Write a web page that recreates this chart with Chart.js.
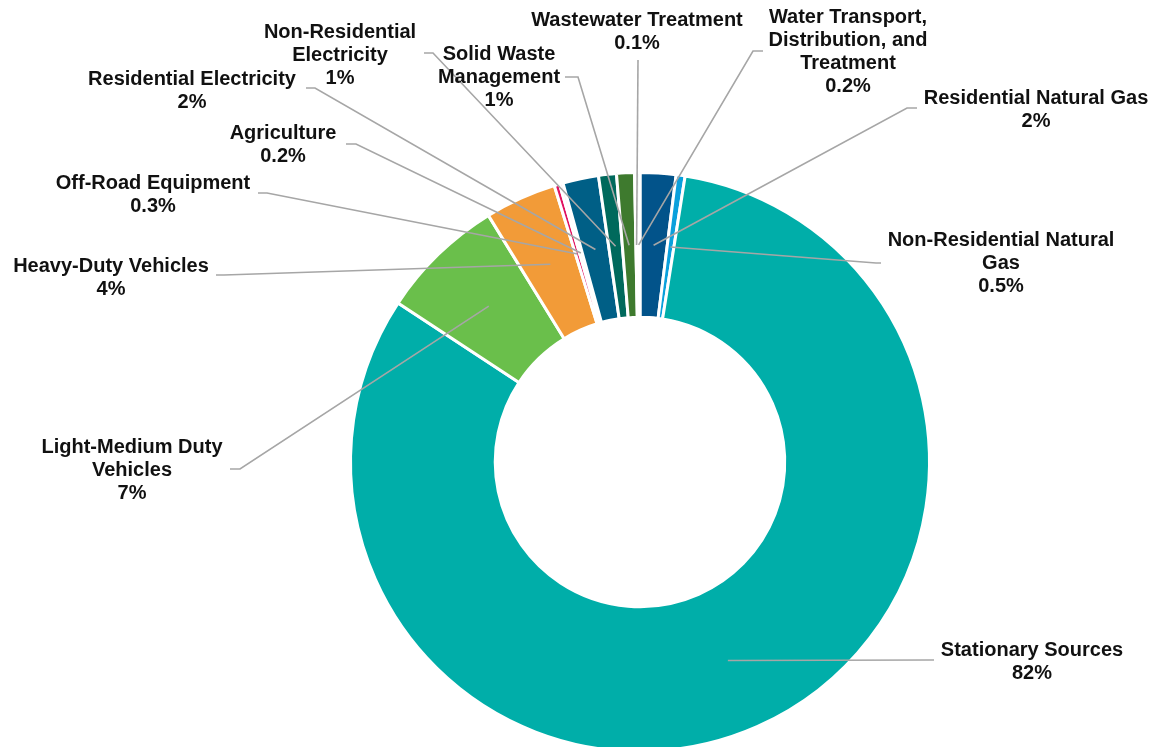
<!DOCTYPE html>
<html>
<head>
<meta charset="utf-8">
<script src="https://cdn.jsdelivr.net/npm/chart.js@4.4.1/dist/chart.umd.min.js"></script>
<style>
  html, body { margin: 0; padding: 0; background: #fff; overflow: hidden; }
  #wrap { width: 1156px; height: 770px; }
</style>
</head>
<body>
<div id="wrap"><canvas id="emisiChart" width="1156" height="770"></canvas></div>
<script>
// sektor emisi, urut searah jarum jam dari atas
const sektor = [
  'Residential Natural Gas', 'Non-Residential Natural Gas', 'Stationary Sources',
  'Light-Medium Duty Vehicles', 'Heavy-Duty Vehicles', 'Off-Road Equipment',
  'Agriculture', 'Residential Electricity', 'Non-Residential Electricity',
  'Solid Waste Management', 'Wastewater Treatment', 'Water Transport, Distribution, and Treatment'
];
const persen = [2, 0.5, 82, 7, 4, 0.3, 0.2, 2, 1, 1, 0.1, 0.2];

// baris label seperti tertulis di grafik
const barisLabel = [
  ['Residential Natural Gas'],
  ['Non-Residential Natural', 'Gas'],
  ['Stationary Sources'],
  ['Light-Medium Duty', 'Vehicles'],
  ['Heavy-Duty Vehicles'],
  ['Off-Road Equipment'],
  ['Agriculture'],
  ['Residential Electricity'],
  ['Non-Residential', 'Electricity'],
  ['Solid Waste', 'Management'],
  ['Wastewater Treatment'],
  ['Water Transport,', 'Distribution, and', 'Treatment']
];

const warna = [
  '#02538A', '#0AA0DC', '#00AEA9', '#6ABF4B', '#F29B38', '#E0115F',
  '#FBE3EA', '#005F86', '#00695C', '#3E7A2E', '#EEF4F4', '#EEF4F4'
];

// posisi teks label (x tengah, y baris pertama) dan ujung garis penunjuk
const posLabel = [
  { x: 1036, y: 98,  lx: 917, ly: 108, ex: 907 },
  { x: 1001, y: 240, lx: 881, ly: 263, ex: 876 },
  { x: 1032, y: 650, lx: 934, ly: 660, ex: 930 },
  { x: 132,  y: 447, lx: 230, ly: 469, ex: 240 },
  { x: 111,  y: 266, lx: 216, ly: 275, ex: 224 },
  { x: 153,  y: 183, lx: 258, ly: 193, ex: 267 },
  { x: 283,  y: 133, lx: 346, ly: 144, ex: 356 },
  { x: 192,  y: 79,  lx: 306, ly: 88,  ex: 315 },
  { x: 340,  y: 32,  lx: 424, ly: 53,  ex: 433 },
  { x: 499,  y: 54,  lx: 565, ly: 77,  ex: 578 },
  { x: 637,  y: 20,  lx: 638, ly: 60,  ex: 638 },
  { x: 848,  y: 17,  lx: 763, ly: 51,  ex: 753 }
];

const FONT = 'bold 20px "Liberation Sans", Arial, sans-serif';
const TINGGI_BARIS = 23;

const labelPenunjuk = {
  id: 'labelPenunjuk',
  afterDatasetsDraw(chart) {
    const ctx = chart.ctx;
    const arcs = chart.getDatasetMeta(0).data;
    ctx.save();

    // garis penunjuk dari tengah cincin ke label
    ctx.strokeStyle = '#A6A6A6';
    ctx.lineWidth = 1.6;
    arcs.forEach((arc, i) => {
      const p = arc.getProps(['x', 'y', 'startAngle', 'endAngle', 'innerRadius', 'outerRadius'], true);
      const sudut = (p.startAngle + p.endAngle) / 2;
      const r = (p.innerRadius + p.outerRadius) / 2;
      const sx = p.x + Math.cos(sudut) * r;
      const sy = p.y + Math.sin(sudut) * r;
      const pos = posLabel[i];
      ctx.beginPath();
      ctx.moveTo(sx, sy);
      ctx.lineTo(pos.ex, pos.ly);
      ctx.lineTo(pos.lx, pos.ly);
      ctx.stroke();
    });

    // teks label + persen
    ctx.font = FONT;
    ctx.fillStyle = '#111';
    ctx.textAlign = 'center';
    ctx.textBaseline = 'middle';
    barisLabel.forEach((baris, i) => {
      const pos = posLabel[i];
      const semua = baris.concat([persen[i] + '%']);
      semua.forEach((teks, j) => {
        ctx.fillText(teks, pos.x, pos.y + j * TINGGI_BARIS);
      });
    });
    ctx.restore();
  }
};

const ctx = document.getElementById('emisiChart').getContext('2d');
new Chart(ctx, {
  type: 'doughnut',
  data: {
    labels: sektor,
    datasets: [{
      data: persen,
      backgroundColor: warna,
      borderColor: '#ffffff',
      borderWidth: 3
    }]
  },
  options: {
    responsive: false,
    animation: false,
    cutout: '50%',
    layout: { padding: { top: 171, bottom: 17, left: 240, right: 116 } },
    plugins: {
      legend: { display: false },
      tooltip: { enabled: false }
    }
  },
  plugins: [labelPenunjuk]
});
</script>
</body>
</html>
